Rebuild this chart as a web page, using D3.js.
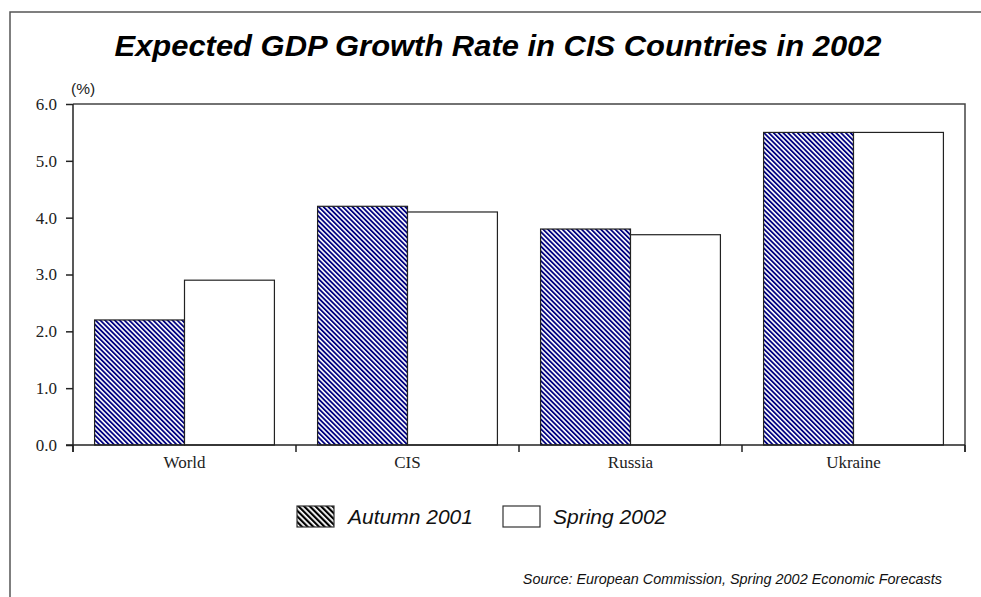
<!DOCTYPE html>
<html>
<head>
<meta charset="utf-8">
<script src="https://cdn.jsdelivr.net/npm/d3@7"></script>
<style>
html,body{margin:0;padding:0;background:#fff;}
svg{display:block;}
</style>
</head>
<body>
<svg id="chart" width="981" height="597"></svg>
<script>
const categories = ["World", "CIS", "Russia", "Ukraine"];
const seriesNames = ["Autumn 2001", "Spring 2002"];
const autumn2001 = [2.2, 4.2, 3.8, 5.5];
const spring2002 = [2.9, 4.1, 3.7, 5.5];
const yTicks = [0, 1, 2, 3, 4, 5, 6];
const titleText = "Expected GDP Growth Rate in CIS Countries in 2002";
const unitText = "(%)";
const sourceText = "Source: European Commission, Spring 2002 Economic Forecasts";

const svg = d3.select("#chart");
const plot = {left: 73, right: 965, top: 104, bottom: 445};

// patterns
const defs = svg.append("defs");
const pat = defs.append("pattern").attr("id", "hatch").attr("patternUnits", "userSpaceOnUse")
  .attr("width", 3.4).attr("height", 3.4).attr("patternTransform", "rotate(-45)");
pat.append("rect").attr("width", 3.4).attr("height", 3.4).attr("fill", "#fff");
pat.append("rect").attr("width", 1.8).attr("height", 3.4).attr("fill", "#000080");
const patL = defs.append("pattern").attr("id", "hatchLegend").attr("patternUnits", "userSpaceOnUse")
  .attr("width", 4).attr("height", 4).attr("patternTransform", "rotate(-45)");
patL.append("rect").attr("width", 4).attr("height", 4).attr("fill", "#fff");
patL.append("rect").attr("width", 2.2).attr("height", 4).attr("fill", "#000");

// outer border
svg.append("rect").attr("x", 10).attr("y", 12).attr("width", 1200).attr("height", 1200)
  .attr("fill", "none").attr("stroke", "#555").attr("stroke-width", 1.5);

// title
svg.append("text").attr("x", 498).attr("y", 56).attr("text-anchor", "middle")
  .attr("font-family", "Liberation Sans, Arial, sans-serif").attr("font-size", 30)
  .attr("font-weight", "bold").attr("font-style", "italic").attr("fill", "#000")
  .attr("textLength", 767).attr("lengthAdjust", "spacingAndGlyphs")
  .text(titleText);

// scales
const x0 = d3.scaleBand().domain(categories).range([plot.left, plot.right]).paddingInner(0).paddingOuter(0);
const x1 = d3.scaleBand().domain(seriesNames).range([0, x0.bandwidth()]).paddingInner(0).paddingOuter(0.24);
const y = d3.scaleLinear().domain([0, 6]).range([plot.bottom, plot.top]);

// plot frame (top and right)
svg.append("path")
  .attr("d", `M${plot.left},${plot.top}H${plot.right}V${plot.bottom + 7}`)
  .attr("fill", "none").attr("stroke", "#444").attr("stroke-width", 1.5);

// bars
const rows = categories.map((c, i) => ({cat: c, vals: [autumn2001[i], spring2002[i]]}));
const g = svg.append("g");
rows.forEach(r => {
  r.vals.forEach((v, j) => {
    g.append("rect")
      .attr("x", x0(r.cat) + x1(seriesNames[j]))
      .attr("y", y(v))
      .attr("width", x1.bandwidth())
      .attr("height", y(0) - y(v))
      .attr("fill", j === 0 ? "url(#hatch)" : "#fff")
      .attr("stroke", "#222").attr("stroke-width", 1.2);
  });
});

// y axis
const yAxis = d3.axisLeft(y).tickValues(yTicks).tickFormat(d3.format(".1f")).tickSize(7).tickPadding(9);
const ya = svg.append("g").attr("transform", `translate(${plot.left},0)`).call(yAxis);
ya.select(".domain").attr("d", `M0,${plot.top}V${plot.bottom + 7}`).attr("stroke", "#222").attr("stroke-width", 1.5);
ya.selectAll(".tick line").attr("stroke", "#222").attr("stroke-width", 1.5);
ya.selectAll("text").attr("font-family", "Liberation Serif, Times New Roman, serif").attr("font-size", 17).attr("fill", "#222");

// x axis
const xAxis = d3.axisBottom(x0).tickSize(0).tickPadding(11);
const xa = svg.append("g").attr("transform", `translate(0,${plot.bottom})`).call(xAxis);
xa.select(".domain").attr("d", `M${plot.left - 7},0H${plot.right}`).attr("stroke", "#222").attr("stroke-width", 1.5);
xa.selectAll("text").attr("font-family", "Liberation Serif, Times New Roman, serif").attr("font-size", 17).attr("fill", "#222");
// category boundary ticks
const bounds = categories.map(c => x0(c)).concat([x0(categories[categories.length - 1]) + x0.bandwidth()]);
xa.selectAll(".bound").data(bounds).enter().append("line")
  .attr("x1", d => d).attr("x2", d => d).attr("y1", 0).attr("y2", 7)
  .attr("stroke", "#222").attr("stroke-width", 1.5);

// unit label
svg.append("text").attr("x", 71).attr("y", 94)
  .attr("font-family", "Liberation Sans, Arial, sans-serif").attr("font-size", 15.5).attr("fill", "#222")
  .text(unitText);

// legend
const legendItems = [
  {name: seriesNames[0], fill: "url(#hatchLegend)", x: 297, tx: 348},
  {name: seriesNames[1], fill: "#fff", x: 503, tx: 553}
];
legendItems.forEach(it => {
  svg.append("rect").attr("x", it.x).attr("y", 506).attr("width", 37).attr("height", 21)
    .attr("fill", it.fill).attr("stroke", "#333").attr("stroke-width", 1.2);
  svg.append("text").attr("x", it.tx).attr("y", 524)
    .attr("font-family", "Liberation Sans, Arial, sans-serif").attr("font-size", 21)
    .attr("font-style", "italic").attr("fill", "#111").text(it.name);
});

// source
svg.append("text").attr("x", 942).attr("y", 584).attr("text-anchor", "end")
  .attr("font-family", "Liberation Sans, Arial, sans-serif").attr("font-size", 14.4)
  .attr("font-style", "italic").attr("fill", "#111").text(sourceText);
</script>
</body>
</html>
